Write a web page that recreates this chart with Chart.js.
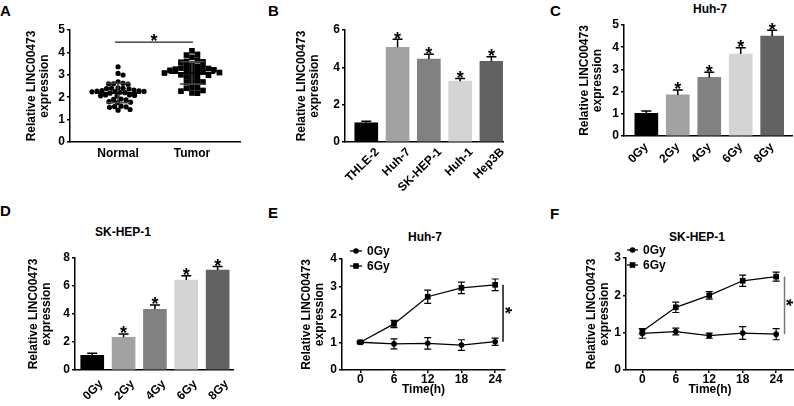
<!DOCTYPE html>
<html>
<head>
<meta charset="utf-8">
<script src="https://cdn.jsdelivr.net/npm/chart.js@4.4.1/dist/chart.umd.min.js"></script>
<style>
    body { margin: 0; width: 794px; height: 406px; overflow: hidden; position: relative; background: #fff;
           font-family: "Liberation Sans", Arial, Helvetica, sans-serif; }
    canvas { position: absolute; }
    .lbl { position: absolute; font-weight: bold; color: #000; white-space: nowrap; line-height: 1; }
    .letter { font-size: 15px; }
    .ptitle { font-size: 12px; transform: translate(-50%, -50%); }
</style>
</head>
<body>
<div class="lbl letter" style="left:0px;top:3px">A</div>
<div class="lbl letter" style="left:268px;top:3px">B</div>
<div class="lbl letter" style="left:550px;top:3px">C</div>
<div class="lbl letter" style="left:0px;top:203px">D</div>
<div class="lbl letter" style="left:268px;top:205px">E</div>
<div class="lbl letter" style="left:550px;top:206px">F</div>
<div class="lbl ptitle" style="left:710px;top:9px">Huh-7</div>
<div class="lbl ptitle" style="left:123px;top:232px">SK-HEP-1</div>
<div class="lbl ptitle" style="left:425px;top:237px">Huh-7</div>
<div class="lbl ptitle" style="left:697px;top:237px">SK-HEP-1</div>

<script>
// ============================================
// DATA
// ============================================

// A - scatter dot plot
var scatterGroups = ['Normal', 'Tumor'];
var normalValues = [3.36, 3.06, 2.99, 2.69, 2.62, 2.6, 2.6, 2.58, 2.42, 2.4, 2.38, 2.37, 2.4,
    2.32, 2.3, 2.28, 2.27, 2.26, 2.25, 2.24, 2.22, 2.2, 2.18, 2.1, 2.08, 2.06, 2.1, 2.05,
    1.92, 1.9, 1.88, 1.8, 1.78, 1.76, 1.6, 1.57, 1.55, 1.58, 1.42, 1.45];
var tumorValues = [4.07, 3.91, 3.88, 3.78, 3.66, 3.6, 3.58, 3.56, 3.42, 3.38, 3.36, 3.35,
    3.3, 3.28, 3.25, 3.22, 3.2, 3.18, 3.15, 3.13, 3.12, 3.1, 3.08, 3.0, 2.98, 2.95, 2.92, 2.9,
    2.72, 2.69, 2.68, 2.66, 2.45, 2.43, 2.4, 2.3, 2.27, 2.19, 2.18];

// B - cell lines
var cellLines = ['THLE-2', 'Huh-7', 'SK-HEP-1', 'Huh-1', 'Hep3B'];
var cellMeans = [1.03, 5.07, 4.44, 3.26, 4.32];
var cellErrors = [0.08, 0.43, 0.26, 0.14, 0.25];

// C / D - radiation doses
var doses = ['0Gy', '2Gy', '4Gy', '6Gy', '8Gy'];
var huh7DoseMeans = [1.02, 1.85, 2.64, 3.69, 4.5];
var huh7DoseErrors = [0.11, 0.22, 0.23, 0.29, 0.26];
var skDoseMeans = [1.05, 2.34, 4.34, 6.42, 7.14];
var skDoseErrors = [0.14, 0.24, 0.31, 0.31, 0.26];

// significance vs first bar
var markedVsControl = [false, true, true, true, true];

// E / F - time course
var hours = [0, 6, 12, 18, 24];
var seriesNames = ['0Gy', '6Gy'];
var huh7Ctrl = [1.0, 0.94, 0.96, 0.9, 1.02];
var huh7CtrlErr = [0.03, 0.18, 0.21, 0.19, 0.13];
var huh7Irr = [1.0, 1.66, 2.64, 2.96, 3.07];
var huh7IrrErr = [0.03, 0.13, 0.24, 0.21, 0.21];
var skCtrl = [0.98, 1.03, 0.92, 0.99, 0.96];
var skCtrlErr = [0.13, 0.09, 0.07, 0.17, 0.15];
var skIrr = [1.04, 1.68, 2.0, 2.39, 2.5];
var skIrrErr = [0.07, 0.14, 0.1, 0.15, 0.12];

var barColors = ['#000000', '#a2a2a2', '#818181', '#d4d4d4', '#626262'];

// ============================================
// CHART SETUP
// ============================================
Chart.defaults.font.family = '"Liberation Sans", Arial, Helvetica, sans-serif';
Chart.defaults.font.size = 12;
Chart.defaults.font.weight = 'bold';
Chart.defaults.color = '#000';
Chart.defaults.animation = false;
Chart.defaults.responsive = false;
Chart.defaults.layout.autoPadding = false;
Chart.defaults.plugins.legend.display = false;
Chart.defaults.plugins.tooltip.enabled = false;

var Y_TITLE = ['Relative LINC00473', 'expression'];

function makeCanvas(f) {
    var c = document.createElement('canvas');
    c.width = f.w;
    c.height = f.h;
    c.style.left = f.x + 'px';
    c.style.top = f.y + 'px';
    c.style.width = f.w + 'px';
    c.style.height = f.h + 'px';
    document.body.appendChild(c);
    return c;
}

// canvas box + wanted plot area (L,T,R,B) + axis block sizes
function frameLayout(f) {
    return {
        autoPadding: false,
        padding: {
            left: f.L - f.yw - f.x,
            top: f.T - f.y,
            right: f.x + f.w - f.R,
            bottom: f.y + f.h - f.B - f.xh
        }
    };
}

function yAxis(f, max, step) {
    return {
        type: 'linear', min: 0, max: max,
        ticks: { stepSize: step, padding: 2 },
        grid: { drawOnChartArea: false, drawTicks: true, tickLength: 3, color: '#000', lineWidth: 1.5 },
        border: { display: true, color: '#000', width: 1.5 },
        title: { display: true, text: Y_TITLE, padding: 0, font: { size: 12, weight: 'bold', lineHeight: 1.12 } },
        afterFit: function(s) { s.width = f.yw; }
    };
}

function catXAxis(f, labels, first, min, max, opts) {
    return {
        type: 'linear', min: min, max: max, offset: false,
        grid: { display: false, drawTicks: false, tickLength: 0, offset: false },
        border: { display: true, color: '#000', width: 1.5 },
        ticks: {
            autoSkip: false, padding: opts.pad, labelOffset: opts.shift || 0,
            minRotation: opts.rot || 0, maxRotation: opts.rot || 0,
            callback: function(v) { return labels[v - first]; }
        },
        afterBuildTicks: function(s) {
            s.ticks = labels.map(function(l, i) { return { value: first + i }; });
        },
        afterFit: function(s) { s.height = f.xh; }
    };
}

function timeXAxis(f, min, max) {
    return {
        type: 'linear', min: min, max: max,
        grid: { drawOnChartArea: false, drawTicks: true, tickLength: 3, color: '#000', lineWidth: 1.5 },
        border: { display: true, color: '#000', width: 1.5 },
        ticks: { autoSkip: false, padding: 1, maxRotation: 0, font: { size: 12, weight: 'bold', lineHeight: 1 } },
        afterBuildTicks: function(s) {
            s.ticks = hours.map(function(h) { return { value: h }; });
        },
        title: { display: true, text: 'Time(h)', padding: 0, font: { size: 12, weight: 'bold', lineHeight: 1.1 } },
        afterFit: function(s) { s.height = f.xh; }
    };
}

function drawStar(ctx, cx, cy, rot) {
    ctx.save();
    ctx.translate(cx, cy);
    ctx.rotate(rot);
    ctx.font = 'bold 18px "Liberation Sans", Arial, sans-serif';
    ctx.textAlign = 'center';
    ctx.textBaseline = 'alphabetic';
    ctx.fillText('*', 0, 0.58 * 18);
    ctx.restore();
}

// error bars, stars, legend, mean/SD lines
var extras = {
    id: 'extras',
    afterDatasetsDraw: function(chart, args, o) {
        var ctx = chart.ctx;
        var ys = chart.scales.y;
        var xs = chart.scales.x;
        ctx.save();
        ctx.strokeStyle = '#000';
        ctx.fillStyle = '#000';

        if (o.kind === 'bars') {
            var meta = chart.getDatasetMeta(0);
            for (var i = 0; i < meta.data.length; i++) {
                var el = meta.data[i];
                var v = chart.data.datasets[0].data[i].y;
                var yTop = ys.getPixelForValue(v);
                var yE = ys.getPixelForValue(v + o.errors[i]);
                ctx.lineWidth = 1.5;
                ctx.beginPath();
                ctx.moveTo(el.x, yTop);
                ctx.lineTo(el.x, yE);
                ctx.moveTo(el.x - 5, yE);
                ctx.lineTo(el.x + 5, yE);
                ctx.stroke();
                if (o.stars[i]) drawStar(ctx, el.x, yE - 5, 0);
            }
        }

        if (o.kind === 'lines') {
            for (var d = 0; d < chart.data.datasets.length; d++) {
                var m = chart.getDatasetMeta(d);
                var ds = chart.data.datasets[d];
                ctx.lineWidth = 1.2;
                for (var j = 0; j < m.data.length; j++) {
                    var p = m.data[j];
                    var val = ds.data[j].y;
                    var e = o.errors[d][j];
                    var y1 = ys.getPixelForValue(val - e);
                    var y2 = ys.getPixelForValue(val + e);
                    ctx.beginPath();
                    ctx.moveTo(p.x, y1); ctx.lineTo(p.x, y2);
                    ctx.moveTo(p.x - 3.5, y1); ctx.lineTo(p.x + 3.5, y1);
                    ctx.moveTo(p.x - 3.5, y2); ctx.lineTo(p.x + 3.5, y2);
                    ctx.stroke();
                }
            }
            // significance bracket between the last points
            var last = hours.length - 1;
            var sx = xs.getPixelForValue(o.sigAt);
            var sTop = ys.getPixelForValue(chart.data.datasets[1].data[last].y);
            var sBot = ys.getPixelForValue(chart.data.datasets[0].data[last].y);
            ctx.strokeStyle = o.sigColor;
            ctx.lineWidth = 1.5;
            ctx.beginPath();
            ctx.moveTo(sx, sTop); ctx.lineTo(sx, sBot);
            ctx.stroke();
            drawStar(ctx, sx + 6, (sTop + sBot) / 2 - 3, Math.PI / 2);

            // legend
            var ca = chart.chartArea;
            ctx.fillStyle = '#000';
            ctx.strokeStyle = '#000';
            ctx.font = 'bold 12px "Liberation Sans", Arial, sans-serif';
            ctx.textAlign = 'left';
            ctx.textBaseline = 'middle';
            for (var k = 0; k < chart.data.datasets.length; k++) {
                var lx = ca.left + o.legendDx;
                var ly = ca.top - 8 + k * 15;
                ctx.lineWidth = 1.3;
                ctx.beginPath();
                ctx.moveTo(lx, ly); ctx.lineTo(lx + o.legendLen, ly);
                ctx.stroke();
                var mx = lx + o.legendLen / 2;
                if (k === 0) {
                    ctx.beginPath(); ctx.arc(mx, ly, 2.8, 0, Math.PI * 2); ctx.fill();
                } else {
                    ctx.fillRect(mx - 2.8, ly - 2.8, 5.6, 5.6);
                }
                ctx.fillText(chart.data.datasets[k].label, lx + o.legendLen + 5, ly + 1);
            }
        }

        if (o.kind === 'scatter') {
            for (var g = 0; g < 2; g++) {
                var vals = g ? tumorValues : normalValues;
                var mean = 0;
                vals.forEach(function(v) { mean += v; });
                mean /= vals.length;
                var ss = 0;
                vals.forEach(function(v) { ss += (v - mean) * (v - mean); });
                var sd = Math.sqrt(ss / (vals.length - 1));
                var cx = xs.getPixelForValue(g + 1);
                var yMean = ys.getPixelForValue(mean);
                var yHi = ys.getPixelForValue(mean + sd);
                var yLo = ys.getPixelForValue(mean - sd);
                ctx.strokeStyle = '#444';
                ctx.lineWidth = 1.5;
                ctx.beginPath();
                ctx.moveTo(cx, yHi); ctx.lineTo(cx, yLo);
                ctx.moveTo(cx - 12, yHi); ctx.lineTo(cx + 12, yHi);
                ctx.moveTo(cx - 12, yLo); ctx.lineTo(cx + 12, yLo);
                ctx.stroke();
                ctx.strokeStyle = '#000';
                ctx.lineWidth = 2;
                ctx.beginPath();
                ctx.moveTo(cx - 23, yMean); ctx.lineTo(cx + 23, yMean);
                ctx.stroke();
            }
            var x1 = xs.getPixelForValue(1) - 3;
            var x2 = xs.getPixelForValue(2) + 1;
            var yl = ys.getPixelForValue(o.sigLevel);
            ctx.strokeStyle = '#222';
            ctx.lineWidth = 1.2;
            ctx.beginPath();
            ctx.moveTo(x1, yl); ctx.lineTo(x2, yl);
            ctx.stroke();
            drawStar(ctx, (x1 + x2) / 2, yl - 6, 0);
        }
        ctx.restore();
    }
};

function barChart(f, labels, means, errors, yMax, yStep, xMin, xMax, xOpts) {
    var data = [];
    for (var i = 0; i < means.length; i++) data.push({ x: i, y: means[i] });
    return new Chart(makeCanvas(f), {
        type: 'bar',
        data: {
            datasets: [{ data: data, backgroundColor: barColors, borderWidth: 0, barThickness: 23 }]
        },
        options: {
            layout: frameLayout(f),
            scales: { x: catXAxis(f, labels, 0, xMin, xMax, xOpts), y: yAxis(f, yMax, yStep) },
            plugins: { extras: { kind: 'bars', errors: errors, stars: markedVsControl } }
        },
        plugins: [extras]
    });
}

function lineChart(f, ctrl, ctrlErr, irr, irrErr, yMax, xMin, xMax, o) {
    function pts(arr) {
        return arr.map(function(v, i) { return { x: hours[i], y: v }; });
    }
    o.kind = 'lines';
    o.errors = [ctrlErr, irrErr];
    return new Chart(makeCanvas(f), {
        type: 'line',
        data: {
            datasets: [
                { label: seriesNames[0], data: pts(ctrl), borderColor: '#000', borderWidth: 1.3,
                  pointStyle: 'circle', pointRadius: 2.8, pointBackgroundColor: '#000', pointBorderWidth: 0 },
                { label: seriesNames[1], data: pts(irr), borderColor: '#000', borderWidth: 1.3,
                  pointStyle: 'rect', pointRadius: 4, pointBackgroundColor: '#000', pointBorderWidth: 0 }
            ]
        },
        options: {
            layout: frameLayout(f),
            scales: { x: timeXAxis(f, xMin, xMax), y: yAxis(f, yMax, 1) },
            plugins: { extras: o }
        },
        plugins: [extras]
    });
}

// ---------- A ----------
var frameA = { x: 0, y: 0, w: 265, h: 195, L: 70, T: 30, R: 240, B: 142, yw: 45, xh: 53 };
var chartA = new Chart(makeCanvas(frameA), {
    type: 'scatter',
    data: {
        datasets: [
            { data: normalValues.map(function(v) { return { x: 1, y: v }; }), pointStyle: 'circle',
              pointRadius: 2.6, pointBackgroundColor: '#000', pointBorderWidth: 0 },
            { data: tumorValues.map(function(v) { return { x: 2, y: v }; }), pointStyle: 'rect',
              pointRadius: 4, pointBackgroundColor: '#000', pointBorderWidth: 0 }
        ]
    },
    options: {
        layout: frameLayout(frameA),
        scales: { x: catXAxis(frameA, scatterGroups, 1, 0.35, 2.65, { pad: 4 }), y: yAxis(frameA, 5, 1) },
        plugins: { extras: { kind: 'scatter', sigLevel: 4.46 } }
    },
    plugins: [extras]
});

// spread the dots sideways so they don't pile up (beeswarm)
function swarm(values, ys, diam, square) {
    var order = values.map(function(v, i) { return i; });
    order.sort(function(a, b) { return values[b] - values[a]; });
    var placed = [];
    var offs = [];
    order.forEach(function(i) {
        for (var k = 0; k < 300; k++) {
            var dx = (k % 2 ? 1 : -1) * Math.ceil(k / 2) * 0.5;
            var ok = true;
            for (var p = 0; p < placed.length; p++) {
                var ddx = placed[p].x - dx;
                var ddy = placed[p].y - ys[i];
                var hit = square ? (Math.abs(ddx) < diam && Math.abs(ddy) < diam)
                                 : (ddx * ddx + ddy * ddy < diam * diam);
                if (hit) { ok = false; break; }
            }
            if (ok) {
                offs[i] = dx;
                placed.push({ x: dx, y: ys[i] });
                break;
            }
        }
    });
    return offs;
}

var pxPerGroup = chartA.scales.x.getPixelForValue(2) - chartA.scales.x.getPixelForValue(1);
[normalValues, tumorValues].forEach(function(vals, g) {
    var ys = vals.map(function(v) { return chartA.scales.y.getPixelForValue(v); });
    var offs = swarm(vals, ys, g ? 5.1 : 4.8, g === 1);
    chartA.data.datasets[g].data = vals.map(function(v, i) {
        return { x: g + 1 + offs[i] / pxPerGroup, y: v };
    });
});
chartA.update('none');

// ---------- B ----------
barChart({ x: 265, y: 0, w: 265, h: 195, L: 345, T: 30, R: 503, B: 142, yw: 50, xh: 53 },
    cellLines, cellMeans, cellErrors, 6, 2, -0.68, 4.37, { rot: 45, pad: 3, shift: 11 });

// ---------- C ----------
barChart({ x: 530, y: 0, w: 264, h: 195, L: 624, T: 25, R: 792, B: 136, yw: 46, xh: 59 },
    doses, huh7DoseMeans, huh7DoseErrors, 5, 1, -0.71, 4.63, { rot: 45, pad: 4, shift: 0 });

// ---------- D ----------
barChart({ x: 0, y: 195, w: 265, h: 211, L: 75, T: 258, R: 233, B: 370, yw: 48, xh: 36 },
    doses, skDoseMeans, skDoseErrors, 8, 2, -0.55, 4.49, { rot: 45, pad: 7, shift: 9 });

// ---------- E ----------
lineChart({ x: 265, y: 195, w: 265, h: 211, L: 342, T: 259, R: 505, B: 370, yw: 42, xh: 26 },
    huh7Ctrl, huh7CtrlErr, huh7Irr, huh7IrrErr, 4, -3.25, 25.75,
    { sigAt: 25.4, sigColor: '#111', legendDx: 8, legendLen: 12 });

// ---------- F ----------
lineChart({ x: 530, y: 195, w: 264, h: 211, L: 626, T: 258, R: 794, B: 370, yw: 41, xh: 26 },
    skCtrl, skCtrlErr, skIrr, skIrrErr, 3, -2.93, 27.2,
    { sigAt: 25.5, sigColor: '#777', legendDx: 1, legendLen: 11 });
</script>
</body>
</html>
